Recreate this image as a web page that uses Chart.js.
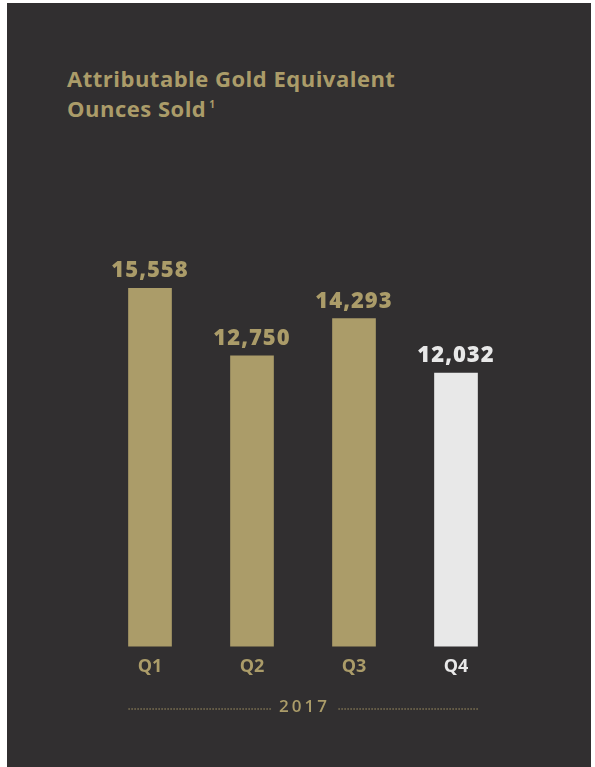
<!DOCTYPE html>
<html>
<head>
<meta charset="utf-8">
<script src="https://cdn.jsdelivr.net/npm/chart.js@4/dist/chart.umd.min.js"></script>
<style>
  body { margin: 0; background: #fff; }
  #panel {
    position: absolute; left: 7px; top: 3px; width: 584px; height: 764px;
    background: #312f30;
  }
  #title {
    position: absolute; left: 60px; top: 60px;
    font-family: "Open Sans", sans-serif; font-weight: 700; font-size: 22px;
    line-height: 30px; color: #ab9c69; letter-spacing: 0.5px;
  }
  #title sup { font-size: 10px; vertical-align: baseline; position: relative; top: -9px; margin-left: 3px; }
  #chartBox { position: absolute; left: 0; top: 0; width: 584px; height: 764px; }
</style>
</head>
<body>
<div id="panel">
  <div id="title">Attributable Gold Equivalent<br>Ounces Sold<sup>1</sup></div>
  <div id="chartBox"><canvas id="goldChart"></canvas></div>
</div>
<script>
const quarters = ["Q1", "Q2", "Q3", "Q4"];
const ouncesSold = [15558, 12750, 14293, 12032];
const yearLabel = "2017";

const gold = "#ab9c69";
const light = "#e8e8e8";
const barColors = quarters.map((q, i) => (i === quarters.length - 1 ? light : gold));

// value labels above bars + year label with dotted rule
const barExtras = {
  id: "barExtras",
  afterDatasetsDraw(chart) {
    const ctx = chart.ctx;
    const meta = chart.getDatasetMeta(0);
    ctx.save();
    ctx.font = "800 22px 'Open Sans'";
    ctx.letterSpacing = "1px";
    ctx.textAlign = "center";
    ctx.textBaseline = "alphabetic";
    meta.data.forEach((bar, i) => {
      ctx.fillStyle = barColors[i];
      ctx.fillText(ouncesSold[i].toLocaleString("en-US"), bar.x, bar.y - 11);
    });

    // year row
    const first = meta.data[0];
    const last = meta.data[meta.data.length - 1];
    const left = first.x - first.width / 2;
    const right = last.x + last.width / 2;
    const yRow = chart.chartArea.bottom + 61;
    const mid = (left + right) / 2;
    ctx.font = "600 17px 'Open Sans'";
    ctx.letterSpacing = "3px";
    ctx.fillStyle = gold;
    ctx.textBaseline = "middle";
    const w = ctx.measureText(yearLabel).width;
    ctx.fillText(yearLabel, mid + 1.5, yRow);
    for (let x = left; x < mid - w / 2 - 8; x += 3) ctx.fillRect(x, yRow + 1, 1.2, 1.2);
    for (let x = right - 1; x > mid + w / 2 + 8; x -= 3) ctx.fillRect(x, yRow + 1, 1.2, 1.2);
    ctx.restore();
  },
};

new Chart(document.getElementById("goldChart"), {
  type: "bar",
  data: {
    labels: quarters,
    datasets: [
      {
        data: ouncesSold,
        backgroundColor: barColors,
        barThickness: 43,
      },
    ],
  },
  options: {
    responsive: true,
    maintainAspectRatio: false,
    animation: false,
    layout: { padding: { top: 285, left: 92, right: 84, bottom: 79 } },
    scales: {
      x: {
        grid: { display: false, drawTicks: false },
        border: { display: false },
        ticks: {
          padding: 10,
          color: (c) => barColors[c.index],
          font: { family: "'Open Sans'", size: 18, weight: "700" },
        },
      },
      y: {
        display: false,
        min: 700,
        max: 15558,
      },
    },
    plugins: {
      legend: { display: false },
      tooltip: { enabled: false },
    },
  },
  plugins: [barExtras],
});
</script>
</body>
</html>
